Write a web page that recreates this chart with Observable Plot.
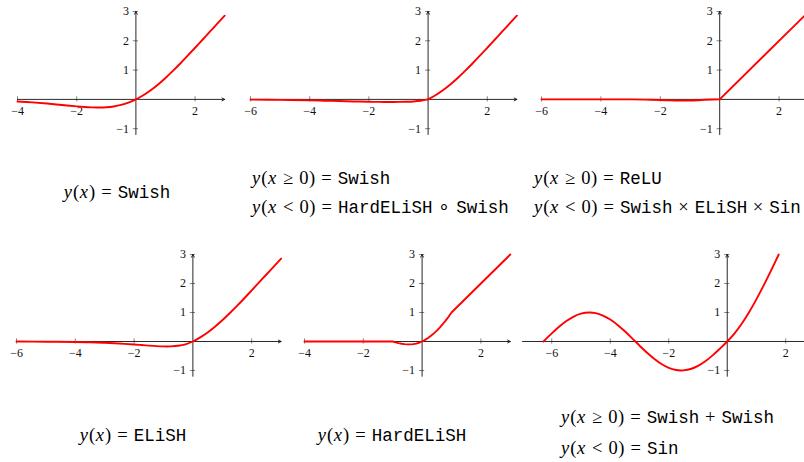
<!DOCTYPE html>
<html><head><meta charset="utf-8">
<script src="https://cdn.jsdelivr.net/npm/d3@7"></script>
<script src="https://cdn.jsdelivr.net/npm/@observablehq/plot@0.6"></script>
<style>
html,body{margin:0;padding:0;background:#fff;overflow:hidden;}
#wrap{position:relative;width:804px;height:462px;overflow:hidden;background:#fff;}
#wrap svg{position:absolute;}
.cap{position:absolute;font-family:"Liberation Serif",serif;font-size:18.5px;color:#000;white-space:nowrap;line-height:1;letter-spacing:0.03em;}
.cap i{font-style:italic;letter-spacing:0.06em;}
.tt{font-family:"Liberation Mono",monospace;font-size:17.5px;letter-spacing:0;}
.r{margin:0 0.3em;}
.b{margin:0 0.3em;}
.c{transform:translate(-50%,-50%);}
.l{transform:translate(0,-50%);}
</style></head><body><div id="wrap"></div>
<script>
// ---------- data ----------
const negX   = [-6,-5,-4,-3.5,-3,-2.5,-2,-1.75,-1.5,-1.25,-1,-0.75,-0.5,-0.25,0];
const swishNegY  = [-0.015,-0.033,-0.072,-0.103,-0.142,-0.190,-0.238,-0.259,-0.274,-0.278,-0.269,-0.241,-0.189,-0.109,0];
const hardOfSwishNegY = [-0.007,-0.016,-0.032,-0.044,-0.057,-0.070,-0.081,-0.085,-0.087,-0.088,-0.086,-0.081,-0.070,-0.046,0];
const swishElishSinNegY = [0.000,0.000,0.001,0.001,-0.001,-0.008,-0.022,-0.031,-0.039,-0.042,-0.038,-0.028,-0.013,-0.003,0];
const elishNegY = [-0.002,-0.007,-0.018,-0.028,-0.045,-0.070,-0.103,-0.122,-0.142,-0.159,-0.170,-0.169,-0.149,-0.097,0];

const posX      = [0,0.25,0.5,0.75,1,1.25,1.5,1.75,2,2.25,2.5,2.75,3];
const swishPosY = [0,0.141,0.311,0.509,0.731,0.972,1.226,1.491,1.762,2.036,2.310,2.585,2.858];

const reluX = [0,3];
const reluY = [0,3];

const hardX = [-4,-3,-2,-1,-0.9,-0.8,-0.7,-0.6,-0.5,-0.4,-0.3,-0.2,-0.1,0,0.1,0.2,0.3,0.4,0.5,0.6,0.7,0.8,0.9,1,2,3];
const hardY = [0,0,0,0,-0.030,-0.055,-0.076,-0.090,-0.098,-0.099,-0.091,-0.073,-0.043,0,0.055,0.12,0.195,0.28,0.375,0.48,0.595,0.72,0.855,1,2,3];

const sinX = [-6.2832,-6,-5.75,-5.5,-5.25,-5,-4.7124,-4.5,-4.25,-4,-3.75,-3.5,-3.25,-3.1416,-3,-2.75,-2.5,-2.25,-2,-1.75,-1.5708,-1.5,-1.25,-1,-0.75,-0.5,-0.25,0];
const sinY = [0,0.279,0.508,0.706,0.859,0.959,1,0.978,0.895,0.757,0.572,0.351,0.108,0,-0.141,-0.382,-0.598,-0.778,-0.909,-0.984,-1,-0.997,-0.949,-0.841,-0.682,-0.479,-0.247,0];
const swish2X = [0,0.25,0.5,0.75,1,1.25,1.5,1.76];
const swish2Y = [0,0.281,0.622,1.019,1.462,1.943,2.453,3.0];

const yTicks = [-1,1,2,3];
const yDomain = [-1.2,3];
const tickLabel = {"-6":"−6","-4":"−4","-2":"−2","-1":"−1","1":"1","2":"2","3":"3"};

// ---------- helpers ----------
const wrap = document.getElementById("wrap");
const pts = (xs, ys, lo=-Infinity) => xs.map((x,i)=>[x, ys[i]]).filter(d=>d[0]>=lo);

function panel({xDomain, xTicks, pieces, ox, oy, ux, uy}) {
  const ml = 30, mr = 12, mt = 8, mb = 24;
  const [xmin, xmax] = xDomain, [ymin, ymax] = yDomain;
  const width = ml + (xmax - xmin) * ux + mr;
  const height = mt + (ymax - ymin) * uy + mb;
  const tx = 2.6 / uy, ty = 2.6 / ux;
  const font = "Liberation Serif";
  const svg = Plot.plot({
    width, height,
    marginLeft: ml, marginRight: mr, marginTop: mt, marginBottom: mb,
    style: {background: "transparent", overflow: "visible"},
    x: {domain: xDomain, axis: null},
    y: {domain: yDomain, axis: null},
    marks: [
      Plot.ruleX(xTicks, {x: d=>d, y1: -tx, y2: tx, stroke: "#666", strokeWidth: 0.8}),
      Plot.ruleY(yTicks, {y: d=>d, x1: -ty, x2: ty, stroke: "#666", strokeWidth: 0.8}),
      Plot.arrow([0], {x1: xmin, x2: xmax, y1: 0, y2: 0, stroke: "#111", strokeWidth: 0.9, headLength: 5, headAngle: 55}),
      Plot.arrow([0], {x1: 0, x2: 0, y1: ymin, y2: ymax, stroke: "#111", strokeWidth: 0.9, headLength: 5, headAngle: 55}),
      Plot.text(xTicks, {x: d=>d, y: 0, text: d=>tickLabel[d], dy: 12, fontFamily: font, fontSize: 12, fill: "#111"}),
      Plot.text(yTicks, {x: 0, y: d=>d, text: d=>tickLabel[d], dx: -7, textAnchor: "end", fontFamily: font, fontSize: 12, fill: "#111"}),
      ...pieces.map(p => Plot.line(p.data, {x: d=>d[0], y: d=>d[1], stroke: "#ff0000", strokeWidth: 1.9, curve: p.curve || "catmull-rom"}))
    ]
  });
  svg.style.left = (ox - ml - (0 - xmin) * ux) + "px";
  svg.style.top = (oy - mt - (ymax - 0) * uy) + "px";
  wrap.appendChild(svg);
}

const uyTop = 29.3, uyBot = 29.0;

panel({xDomain: [-4,3], xTicks: [-4,-2,2], ox: 135, oy: 99, ux: 29.6, uy: uyTop,
  pieces: [{data: pts(negX, swishNegY, -4).concat(pts(posX, swishPosY).slice(1))}]});
panel({xDomain: [-6,3], xTicks: [-6,-4,-2,2], ox: 427.3, oy: 99, ux: 29.6, uy: uyTop,
  pieces: [{data: pts(negX, hardOfSwishNegY)}, {data: pts(posX, swishPosY)}]});
panel({xDomain: [-6,3], xTicks: [-6,-4,-2,2], ox: 719.3, oy: 99, ux: 29.7, uy: uyTop,
  pieces: [{data: pts(negX, swishElishSinNegY)}, {data: pts(reluX, reluY), curve: "linear"}]});
panel({xDomain: [-6,3], xTicks: [-6,-4,-2,2], ox: 192, oy: 341, ux: 29.4, uy: uyBot,
  pieces: [{data: pts(negX, elishNegY).concat(pts(posX, swishPosY).slice(1))}]});
panel({xDomain: [-4,3], xTicks: [-4,-2,2], ox: 421.5, oy: 341, ux: 29.4, uy: uyBot,
  pieces: [{data: pts(hardX, hardY), curve: "linear"}]});
panel({xDomain: [-7,3], xTicks: [-6,-4,-2,2], ox: 727, oy: 341, ux: 29.25, uy: uyBot,
  pieces: [{data: pts(sinX, sinY).concat(pts(swish2X, swish2Y).slice(1))}]});

// ---------- captions ----------
const T = s => `<span class="tt">${s}</span>`;
const R = s => `<span class="r">${s}</span>`;
const B = s => `<span class="b">${s}</span>`;
const Y = (cond) => `<i>y</i>(<i>x</i>${cond})${R("=")}`;
const caps = [
  {cls: "c", x: 117, y: 193, html: Y("") + T("Swish")},
  {cls: "l", x: 252, y: 179, html: Y(R("≥") + "0") + T("Swish")},
  {cls: "l", x: 252, y: 208, html: Y(R("&lt;") + "0") + T("HardELiSH") + B("∘") + T("Swish")},
  {cls: "l", x: 534, y: 179, html: Y(R("≥") + "0") + T("ReLU")},
  {cls: "l", x: 534, y: 208, html: Y(R("&lt;") + "0") + T("Swish") + B("×") + T("ELiSH") + B("×") + T("Sin")},
  {cls: "c", x: 133, y: 436, html: Y("") + T("ELiSH")},
  {cls: "c", x: 392, y: 436, html: Y("") + T("HardELiSH")},
  {cls: "l", x: 561, y: 418, html: Y(R("≥") + "0") + T("Swish") + B("+") + T("Swish")},
  {cls: "l", x: 561, y: 449, html: Y(R("&lt;") + "0") + T("Sin")}
];
for (const c of caps) {
  const d = document.createElement("div");
  d.className = "cap " + c.cls;
  d.style.left = c.x + "px";
  d.style.top = c.y + "px";
  d.innerHTML = c.html;
  wrap.appendChild(d);
}
</script></body></html>
